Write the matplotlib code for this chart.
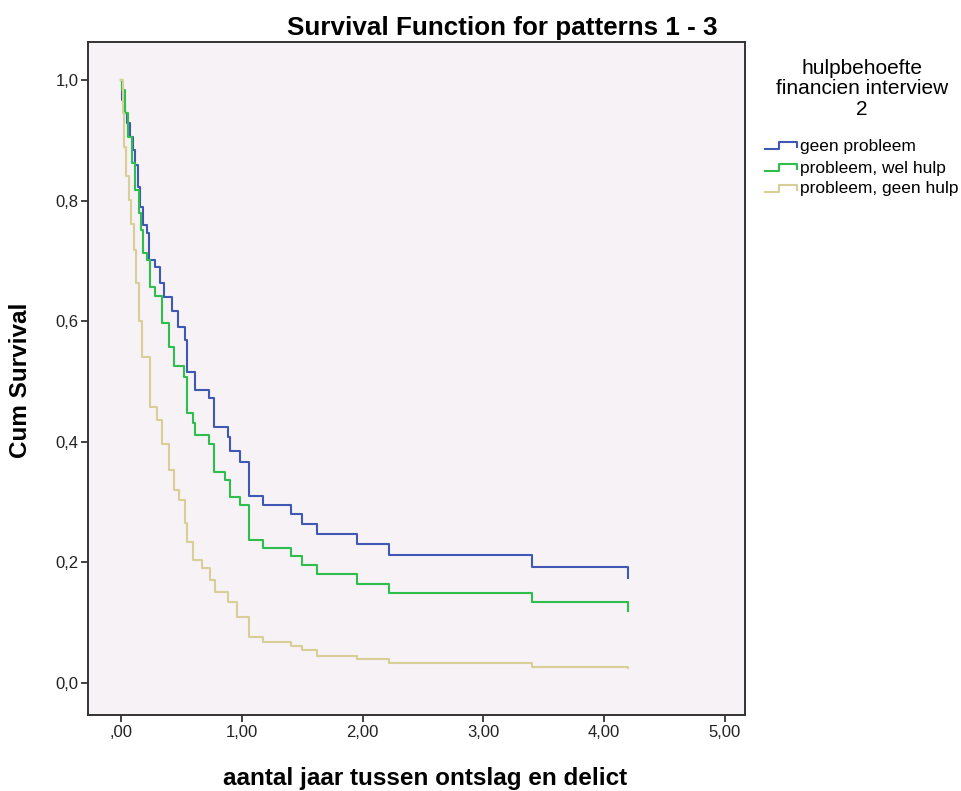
import matplotlib
matplotlib.use("Agg")
import matplotlib.pyplot as plt
from matplotlib.lines import Line2D

# Kaplan-Meier schattingen (tijd in jaren, cum survival)
t_geen = [0.0, 0.008, 0.03, 0.05, 0.077, 0.097, 0.113, 0.14, 0.16, 0.18, 0.215, 0.234,
          0.284, 0.325, 0.36, 0.42, 0.47, 0.527, 0.546, 0.61, 0.726, 0.767, 0.89, 0.905,
          0.988, 1.057, 1.062, 1.178, 1.405, 1.50, 1.625, 1.956, 2.22, 3.40, 4.20]
s_geen = [1.0, 0.967, 0.945, 0.928, 0.906, 0.884, 0.859, 0.823, 0.79, 0.76, 0.746, 0.701,
          0.69, 0.663, 0.64, 0.617, 0.59, 0.569, 0.516, 0.486, 0.473, 0.425, 0.408, 0.384,
          0.367, 0.339, 0.310, 0.295, 0.280, 0.264, 0.247, 0.230, 0.212, 0.193, 0.175]

t_wel = [0.0, 0.005, 0.03, 0.058, 0.091, 0.119, 0.147, 0.168, 0.182, 0.215, 0.243, 0.284,
         0.34, 0.395, 0.436, 0.519, 0.546, 0.60, 0.615, 0.726, 0.767, 0.864, 0.905, 0.988,
         1.057, 1.062, 1.178, 1.405, 1.50, 1.625, 1.956, 2.22, 3.40, 4.20]
s_wel = [1.0, 0.983, 0.945, 0.906, 0.862, 0.818, 0.779, 0.751, 0.713, 0.701, 0.657, 0.641,
         0.597, 0.558, 0.525, 0.508, 0.447, 0.431, 0.411, 0.397, 0.350, 0.337, 0.309, 0.295,
         0.267, 0.238, 0.224, 0.211, 0.196, 0.180, 0.165, 0.150, 0.134, 0.119]

t_gh = [0.0, 0.014, 0.028, 0.044, 0.064, 0.083, 0.105, 0.124, 0.15, 0.174, 0.243, 0.298,
        0.34, 0.395, 0.436, 0.478, 0.532, 0.546, 0.60, 0.67, 0.739, 0.78, 0.89, 0.96,
        1.057, 1.062, 1.178, 1.405, 1.50, 1.625, 1.956, 2.22, 3.40, 4.20]
s_gh = [1.0, 0.945, 0.889, 0.84, 0.801, 0.762, 0.718, 0.663, 0.60, 0.541, 0.458, 0.436,
        0.397, 0.353, 0.32, 0.303, 0.265, 0.234, 0.204, 0.19, 0.171, 0.151, 0.135, 0.110,
        0.093, 0.076, 0.068, 0.061, 0.054, 0.045, 0.040, 0.033, 0.027, 0.025]

groepen = ["geen probleem", "probleem, wel hulp", "probleem, geen hulp"]
kleuren = ["#3E58B4", "#2DBE4C", "#D8CF96"]

x_ticks = [0, 1, 2, 3, 4, 5]
x_labels = [",00", "1,00", "2,00", "3,00", "4,00", "5,00"]
y_ticks = [0.0, 0.2, 0.4, 0.6, 0.8, 1.0]
y_labels = ["0,0", "0,2", "0,4", "0,6", "0,8", "1,0"]

fig = plt.figure(figsize=(9.61, 7.91), dpi=100)
ax = fig.add_axes([88 / 961, 1 - 715 / 791, 657 / 961, 673 / 791])
ax.set_facecolor("#F6F2F6")

for t, s, c in zip([t_geen, t_wel, t_gh], [s_geen, s_wel, s_gh], kleuren):
    ax.step(t, s, where="post", color=c, lw=1.5)

ax.set_xlim(-0.273, 5.166)
ax.set_ylim(-0.053, 1.063)
ax.set_xticks(x_ticks)
ax.set_xticklabels(x_labels, family="Liberation Sans", fontsize=12, color="#222222")
ax.set_yticks(y_ticks)
ax.set_yticklabels(y_labels, family="Liberation Sans", fontsize=12, color="#222222")
ax.tick_params(direction="out", length=5, width=1.3, color="#333333", pad=2)
for sp in ax.spines.values():
    sp.set_color("#333333")
    sp.set_linewidth(1.4)

fig.text(502 / 961, 1 - 35 / 791, "Survival Function for patterns 1 - 3",
         ha="center", va="baseline", fontsize=18.7, fontweight="bold", family="Liberation Sans")
fig.text(425 / 961, 1 - 778 / 791, "aantal jaar tussen ontslag en delict",
         ha="center", va="center", fontsize=17.5, fontweight="bold", family="Liberation Sans")
fig.text(21 / 961, 1 - 380 / 791, "Cum Survival", rotation=90,
         ha="center", va="center", fontsize=17.5, fontweight="bold", family="Liberation Sans")

# legenda buiten de plot
fig.text(862 / 961, 1 - 89 / 791, "hulpbehoefte\nfinancien interview\n2",
         ha="center", va="center", fontsize=15, family="Liberation Sans", linespacing=1.1)
rij_y = [146, 168, 189]
for naam, c, yy in zip(groepen, kleuren, rij_y):
    y_lo = 1 - (yy + 3) / 791
    y_hi = 1 - (yy - 4) / 791
    xs = [765 / 961, 779 / 961, 779 / 961, 797 / 961, 797 / 961]
    ys = [y_lo, y_lo, y_hi, y_hi, 1 - (yy + 1) / 791]
    fig.add_artist(Line2D(xs, ys, color=c, lw=1.5))
    fig.text(800 / 961, 1 - yy / 791, naam, ha="left", va="center",
             fontsize=12.5, family="Liberation Sans")

fig.savefig("out.png", dpi=100)
